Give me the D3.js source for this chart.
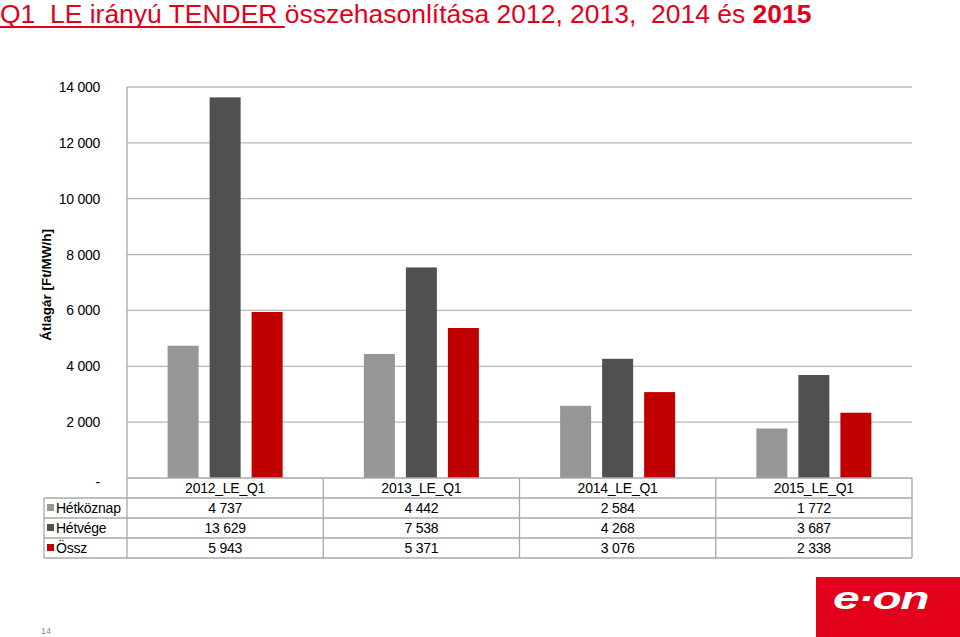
<!DOCTYPE html>
<html><head><meta charset="utf-8">
<script src="https://cdn.jsdelivr.net/npm/d3@7"></script>
<style>
html,body{margin:0;padding:0;background:#fff;}
svg{display:block;font-family:"Liberation Sans",Arial,sans-serif;}
</style></head>
<body>
<svg id="c" width="960" height="637"></svg>
<script>
const categories = ["2012_LE_Q1","2013_LE_Q1","2014_LE_Q1","2015_LE_Q1"];
const seriesNames = ["Hétköznap","Hétvége","Össz"];
const hetkoznap = [4737, 4442, 2584, 1772];
const hetvege = [13629, 7538, 4268, 3687];
const ossz = [5943, 5371, 3076, 2338];
const tickValues = [0, 2000, 4000, 6000, 8000, 10000, 12000, 14000];
const seriesColors = ["#969696", "#505050", "#c00000"];
const seriesValues = [hetkoznap, hetvege, ossz];

const svg = d3.select("#c");
const fmt = v => v === 0 ? "-" : d3.format(",")(v).replace(/,/g, "\u00a0");
const FS = 14;
const LS = "-0.25px";

const plot = {left:127, right:912, top:87, bottom:478};
const x = d3.scaleBand().domain(categories).range([plot.left, plot.right]).padding(0);
const xs = d3.scaleBand().domain(seriesNames).range([0, x.bandwidth()]).paddingInner(0.262).paddingOuter(0.967);
const y = d3.scaleLinear().domain([0, 14000]).range([plot.bottom, plot.top]);

// gridlines
svg.append("g").selectAll("line").data(tickValues.filter(d => d > 0)).join("line")
  .attr("x1", plot.left).attr("x2", plot.right)
  .attr("y1", d => y(d)).attr("y2", d => y(d))
  .attr("stroke", "#b8b8b8").attr("stroke-width", 1.3);

// y axis
const yAxis = d3.axisLeft(y).tickValues(tickValues).tickFormat(fmt).tickSize(0).tickPadding(27);
const ya = svg.append("g").attr("transform", `translate(${plot.left},0)`).call(yAxis);
ya.select(".domain").remove();
ya.selectAll("text").attr("font-size", FS).attr("fill", "#000").attr("letter-spacing", LS)
  .attr("font-family", "'Liberation Sans',Arial,sans-serif");
ya.selectAll(".tick").filter(d => d === 0).select("text").attr("dy", "0.6em");

// bars
const data = [];
categories.forEach((c, i) => seriesNames.forEach((s, j) => data.push({c, s, v: seriesValues[j][i], j})));
svg.append("g").selectAll("rect").data(data).join("rect")
  .attr("x", d => x(d.c) + xs(d.s))
  .attr("width", xs.bandwidth())
  .attr("y", d => y(d.v))
  .attr("height", d => y(0) - y(d.v))
  .attr("fill", d => seriesColors[d.j]);

// y axis title
svg.append("text")
  .attr("transform", "translate(51,285) rotate(-90)")
  .attr("text-anchor", "middle")
  .attr("font-size", 13.5).attr("font-weight", "bold").attr("fill", "#000")
  .text("Átlagár [Ft/MW/h]");

// data table
const rowH = 20;
const tLeft = 44;
const tg = svg.append("g");
const lineCol = "#a8a8a8";
const hLines = [
  {y: plot.bottom, x1: plot.left, x2: plot.right},
  {y: plot.bottom + rowH, x1: tLeft, x2: plot.right},
  {y: plot.bottom + 2*rowH, x1: tLeft, x2: plot.right},
  {y: plot.bottom + 3*rowH, x1: tLeft, x2: plot.right},
  {y: plot.bottom + 4*rowH, x1: tLeft, x2: plot.right}
];
tg.selectAll("line.h").data(hLines).join("line").attr("class","h")
  .attr("x1", d => d.x1).attr("x2", d => d.x2).attr("y1", d => d.y).attr("y2", d => d.y)
  .attr("stroke", lineCol).attr("stroke-width", 1.3);
const vx = categories.map(c => x(c)).concat([plot.right]);
tg.selectAll("line.v").data(vx).join("line").attr("class","v")
  .attr("x1", d => d).attr("x2", d => d)
  .attr("y1", (d, i) => i === 0 ? plot.top : plot.bottom).attr("y2", plot.bottom + 4*rowH)
  .attr("stroke", lineCol).attr("stroke-width", 1.3);
tg.append("line").attr("x1", tLeft).attr("x2", tLeft)
  .attr("y1", plot.bottom + rowH).attr("y2", plot.bottom + 4*rowH)
  .attr("stroke", lineCol).attr("stroke-width", 1.3);

tg.selectAll("text.hd").data(categories).join("text").attr("class","hd")
  .attr("x", d => x(d) + x.bandwidth()/2).attr("y", plot.bottom + rowH/2 + 5)
  .attr("text-anchor", "middle").attr("font-size", FS).attr("letter-spacing", LS).attr("fill", "#000")
  .text(d => d);
seriesNames.forEach((s, j) => {
  const ry = plot.bottom + (j+1)*rowH;
  tg.append("rect").attr("x", tLeft + 3).attr("y", ry + rowH/2 - 4).attr("width", 7).attr("height", 7)
    .attr("fill", seriesColors[j]);
  tg.append("text").attr("x", tLeft + 12).attr("y", ry + rowH/2 + 5)
    .attr("font-size", FS).attr("letter-spacing", LS).attr("fill", "#000").text(s);
  tg.selectAll(null).data(categories).join("text")
    .attr("x", d => x(d) + x.bandwidth()/2).attr("y", ry + rowH/2 + 5)
    .attr("text-anchor", "middle").attr("font-size", FS).attr("letter-spacing", LS).attr("fill", "#000")
    .text((d, i) => fmt(seriesValues[j][i]));
});

// title
const titleCol = "#e2001a";
const tt = svg.append("text").attr("x", 0).attr("y", 23).attr("font-size", 26).attr("fill", titleCol)
  .style("white-space", "pre");
const tsp1 = tt.append("tspan").text("Q1  LE irányú TENDER ");
tt.append("tspan").text("összehasonlítása 2012, 2013,  2014 és ");
tt.append("tspan").attr("font-weight", "bold").text("2015");
const fullW = tt.node().getComputedTextLength();
const sx = 812 / fullW;
tt.attr("transform", `scale(${sx},1)`);
const ulW = tsp1.node().getComputedTextLength();
svg.append("line").attr("x1", 0).attr("x2", ulW * sx).attr("y1", 27).attr("y2", 27)
  .attr("stroke", titleCol).attr("stroke-width", 1.8);

// logo
svg.append("rect").attr("x", 816).attr("y", 577).attr("width", 144).attr("height", 60).attr("fill", "#e2001a");
const lg = svg.append("text").attr("font-size", 32).attr("font-weight", "bold").attr("font-style", "italic")
  .attr("fill", "#fff").attr("x", 0).attr("y", 0).attr("letter-spacing", "-1px").text("e·on");
const bw = lg.node().getComputedTextLength();
lg.attr("transform", `translate(833,609) scale(${95/bw},1)`);

// page number
svg.append("text").attr("x", 41).attr("y", 634).attr("font-size", 9).attr("fill", "#8a8a8a").text("14");
</script>
</body></html>
